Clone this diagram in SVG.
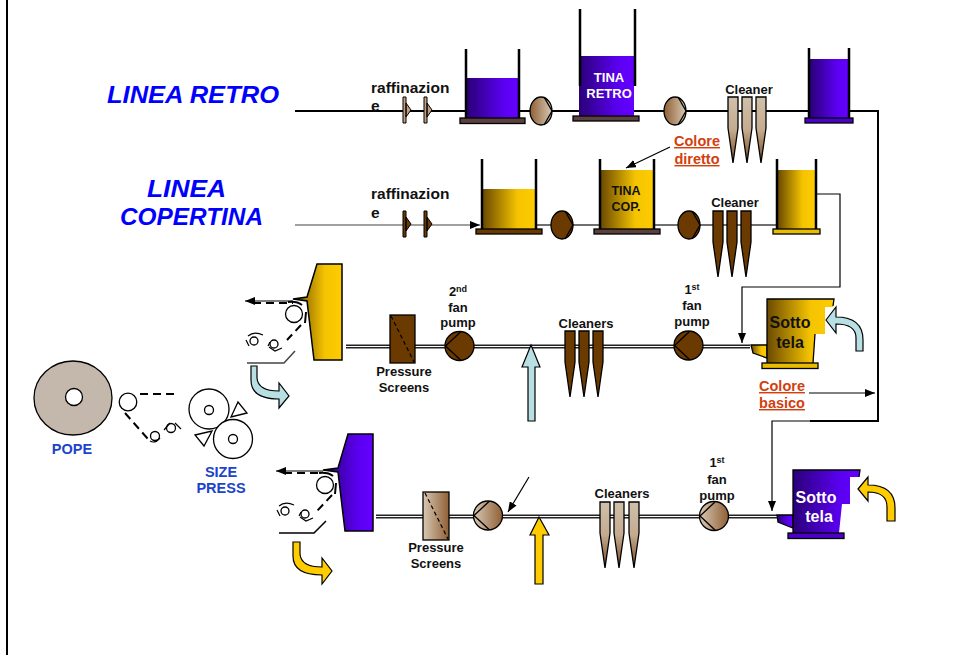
<svg xmlns="http://www.w3.org/2000/svg" width="962" height="655" viewBox="0 0 962 655">
<style>
text{font-family:"Liberation Sans",Arial,sans-serif;font-weight:bold;fill:#111}
.t13{font-size:13px;text-anchor:middle}
.t12{font-size:12.5px;text-anchor:middle}
.t16{font-size:15.5px}
.so{font-size:16px;text-anchor:middle}
.blue{font-size:14.5px;fill:#1a44cc;text-anchor:middle}
.col{font-size:14.5px;fill:#d2400e;text-anchor:middle;text-decoration:underline}
.title{font-style:italic;font-size:24px;fill:#0000ff}
.wall{stroke:#000;stroke-width:2.5;fill:none}
.o{stroke:#000;stroke-width:1.3}
.l{stroke:#000;stroke-width:1.3;fill:none}
.dash{stroke:#000;stroke-width:2;fill:none;stroke-dasharray:8 5}
.thin{stroke:#000;stroke-width:1.2;fill:none}
.main{stroke:#000;stroke-width:2;fill:none}
.rb{fill:#fff;stroke:#000;stroke-width:1.3}
.brown{fill:#6b3a00}
.base{fill:#5c4040}
.pipeo{stroke:#222;stroke-width:4;fill:none}
.pipei{stroke:#fff;stroke-width:1.2;fill:none}
.teal{fill:#b8dfe3;stroke:#000;stroke-width:1.2}
.yel{fill:#ffcc00;stroke:#000;stroke-width:1.2}
</style>
<defs>
<linearGradient id="pur"><stop offset="0" stop-color="#2a0078"/><stop offset="0.7" stop-color="#5a00f0"/><stop offset="1" stop-color="#6400ff"/></linearGradient>
<linearGradient id="gold"><stop offset="0" stop-color="#6b4a00"/><stop offset="0.65" stop-color="#f5c400"/><stop offset="1" stop-color="#ffcc00"/></linearGradient>
<linearGradient id="tanr"><stop offset="0" stop-color="#8f5f35"/><stop offset="1" stop-color="#d8c8b4"/></linearGradient>
<linearGradient id="tanl"><stop offset="0" stop-color="#d8c8b4"/><stop offset="1" stop-color="#8f5f35"/></linearGradient>
<linearGradient id="tanv" x2="0" y2="1"><stop offset="0" stop-color="#d0c0aa"/><stop offset="0.5" stop-color="#c4ab90"/><stop offset="1" stop-color="#7a4a20"/></linearGradient>
<marker id="ah" markerUnits="userSpaceOnUse" markerWidth="11" markerHeight="8" refX="10" refY="4" orient="auto"><path d="M0 0L10 4L0 8Z" fill="#000"/></marker>
<path id="cl" d="M0 0H10V31L5 66L0 31Z" class="o"/>
<path id="refi" d="M0 0H3V26H0ZM3 6L8 13L3 20Z" stroke="#000" stroke-width="1"/>
<path id="chevR" d="M3-14L11 0L3 14" class="l"/>
<path id="chevL" d="M1-14L-14 0L1 14" class="l"/>
</defs>

<rect id="frame" x="6" y="0" width="2" height="655" fill="#000"/>

<g id="connectors">
<path d="M295 111H878V421H810" class="main"/>
<path d="M810 421H772V511" class="thin" marker-end="url(#ah)"/>
<path d="M295 225H480" stroke="#808080" stroke-width="1.5" fill="none" marker-end="url(#ah)"/>
<path d="M536 225H777" stroke="#707070" stroke-width="2" fill="none"/>
<path d="M817 194H840V287H742V343" class="thin" marker-end="url(#ah)"/>
<path d="M670 147L626 168" class="thin" marker-end="url(#ah)"/>
<path d="M809 393H875" class="thin" marker-end="url(#ah)"/>
<path d="M346 346.500H750" class="pipeo"/><path d="M346 346.500H750" class="pipei"/>
<path d="M376 516.500H777" class="pipeo"/><path d="M376 516.500H777" class="pipei"/>
<path d="M529 477L508 512" class="thin" marker-end="url(#ah)"/>
<path d="M293 301H245" class="thin" marker-end="url(#ah)"/>
<path d="M323 471H276" class="thin" marker-end="url(#ah)"/>
</g>

<g id="title-retro"><text class="title" x="107" y="103" textLength="172" lengthAdjust="spacingAndGlyphs">LINEA RETRO</text></g>
<g id="title-copertina"><text class="title" x="147" y="197" textLength="79" lengthAdjust="spacingAndGlyphs">LINEA</text><text class="title" x="120" y="225" textLength="143" lengthAdjust="spacingAndGlyphs">COPERTINA</text></g>

<g id="raff-retro"><text class="t16" x="371" y="93">raffinazion</text><text class="t16" x="371" y="111">e</text>
<use href="#refi" x="403" y="97" fill="#c4a080"/><use href="#refi" x="424" y="97" fill="#c4a080"/></g>
<g id="tank-r1"><rect x="467" y="78" width="52" height="40" fill="url(#pur)"/><path d="M466 49V118M519 49V118" class="wall"/><rect x="460" y="118" width="65" height="5.500" class="base o"/></g>
<g id="pump-r1"><ellipse cx="541" cy="111" rx="11" ry="14" fill="url(#tanr)" class="o"/><use href="#chevR" x="541" y="111"/></g>
<g id="tank-r2"><rect x="579" y="56" width="55" height="60" fill="url(#pur)"/><path d="M580 9V86M635 9V86" class="wall"/><rect x="573" y="116" width="66" height="5" class="base o"/><text class="t13" x="609" y="82" style="fill:#fff">TINA</text><text class="t13" x="609" y="98" style="fill:#fff">RETRO</text></g>
<g id="pump-r2"><ellipse cx="675" cy="111" rx="11" ry="14" fill="url(#tanr)" class="o"/><use href="#chevR" x="675" y="111"/></g>
<g id="cleaner-r"><use href="#cl" x="728" y="97" fill="url(#tanv)"/><use href="#cl" x="742" y="97" fill="url(#tanv)"/><use href="#cl" x="756" y="97" fill="url(#tanv)"/><text class="t13" x="749" y="94">Cleaner</text></g>
<g id="tank-r3"><rect x="810" y="59" width="38" height="59" fill="url(#pur)"/><path d="M809 48V118M849 48V118" class="wall"/><rect x="805" y="118" width="48" height="5" fill="#4c00c8" class="o"/></g>
<g id="colore-diretto"><text class="col" x="697" y="146">Colore</text><text class="col" x="697" y="164">diretto</text></g>

<g id="raff-cop"><text class="t16" x="371" y="199">raffinazion</text><text class="t16" x="371" y="218">e</text>
<use href="#refi" x="403" y="211" class="brown"/><use href="#refi" x="424" y="211" class="brown"/></g>
<g id="tank-c1"><rect x="483" y="189" width="53" height="40" fill="url(#gold)"/><path d="M482 159V229M536 159V229" class="wall"/><rect x="476" y="229" width="66" height="5" class="brown o"/></g>
<g id="pump-c1"><ellipse cx="562" cy="225" rx="11" ry="14" class="brown o"/><use href="#chevR" x="562" y="225"/></g>
<g id="tank-c2"><rect x="601" y="170" width="53" height="59" fill="url(#gold)"/><path d="M600 159V229M654 159V229" class="wall"/><rect x="594" y="229" width="66" height="5" class="base o"/><text class="t12" x="626" y="195">TINA</text><text class="t12" x="626" y="211">COP.</text></g>
<g id="pump-c2"><ellipse cx="689" cy="225" rx="11" ry="14" class="brown o"/><use href="#chevR" x="689" y="225"/></g>
<g id="cleaner-c"><use href="#cl" x="713" y="211" class="brown"/><use href="#cl" x="727" y="211" class="brown"/><use href="#cl" x="741" y="211" class="brown"/><text class="t13" x="735" y="207">Cleaner</text></g>
<g id="tank-c3"><rect x="778" y="170" width="38" height="59" fill="url(#gold)"/><path d="M777 159V229M816 159V229" class="wall"/><rect x="773" y="229" width="47" height="5" fill="#e8bc00" class="o"/></g>

<g id="headbox-top"><path d="M317 264H342V360H314L307 301L293 299L307 297Z" fill="url(#gold)" stroke="#000" stroke-width="1.5"/></g>
<g id="forming-top" fill="none">
<path d="M253 303H293" class="dash"/>
<circle cx="294" cy="314" r="8.500" class="rb"/>
<path d="M288 302Q297 301 302 305M306 312L305 323" class="main"/>
<path d="M301 325L287 340" class="dash"/>
<circle cx="254" cy="341" r="4" class="rb"/><path d="M248 336Q254 331 263 335M246 340L249 346" class="thin"/>
<circle cx="274" cy="344" r="4" class="rb"/><path d="M269 347L275 351L282 348M270 342L268 346" class="thin"/>
<path d="M247 363H284L295 351" stroke="#444" stroke-width="1.500" fill="none"/>
</g>
<g id="flow-teal-1"><path d="M251 366H257V378Q258 391 279 391V383L289 396L279 408V399Q251 399 251 380Z" class="teal"/></g>
<g id="screen-top"><rect x="390" y="315" width="25" height="48" class="brown o"/><path d="M391 316L414 362" stroke="#000" stroke-width="1.200" stroke-dasharray="4 3"/><text class="t13" x="404" y="376">Pressure</text><text class="t13" x="404" y="392">Screens</text></g>
<g id="pump-2nd"><circle cx="459.500" cy="346" r="14.500" class="brown o"/><use href="#chevL" x="459.500" y="346"/><text class="t13" x="458" y="296">2<tspan font-size="9" dy="-4">nd</tspan></text><text class="t13" x="458" y="312">fan</text><text class="t13" x="458" y="327">pump</text></g>
<g id="arrow-teal-up"><path d="M531 345L540 367H535V421H528V367H522Z" class="teal"/></g>
<g id="cleaners-top"><use href="#cl" x="565" y="331" class="brown"/><use href="#cl" x="579" y="331" class="brown"/><use href="#cl" x="593" y="331" class="brown"/><text class="t13" x="586" y="328">Cleaners</text></g>
<g id="pump-1st-top"><circle cx="688.500" cy="345.500" r="14.500" class="brown o"/><use href="#chevL" x="688.500" y="345.500"/><text class="t13" x="692" y="294">1<tspan font-size="9" dy="-4">st</tspan></text><text class="t13" x="692" y="310">fan</text><text class="t13" x="692" y="326">pump</text></g>
<g id="sotto-yellow"><path d="M751 345H767V358L753 353Z" fill="url(#gold)" class="o"/>
<path d="M767 299H834L833 307H825V334H815L813 363H767Z" fill="url(#gold)"/><path d="M767 363V299H834L833 306M815 334L813 363" class="l"/>
<rect x="762" y="363" width="56" height="5.500" fill="#e8bc00" class="o"/>
<text class="so" x="790" y="328">Sotto</text><text class="so" x="790" y="348">tela</text></g>
<g id="flow-teal-2"><path d="M826 320L836 307V317Q863 317 863 340V351H856V338Q856 324 836 324V333Z" class="teal"/></g>
<g id="colore-basico"><text class="col" x="782" y="391">Colore</text><text class="col" x="782" y="408">basico</text></g>

<g id="pope"><ellipse cx="73" cy="398" rx="39" ry="37" fill="#c4b8ac" class="o"/><circle cx="74" cy="397" r="8.500" class="rb"/><text class="blue" x="72" y="454">POPE</text></g>
<g id="pope-rolls" fill="none">
<circle cx="128" cy="402" r="8.800" class="rb"/>
<path d="M140 394H177" class="dash"/>
<path d="M125 413L148 439" class="dash"/>
<circle cx="155" cy="436" r="4.500" class="rb"/><path d="M150 441Q155 444 160 438" class="thin"/>
<circle cx="171" cy="428" r="4.500" class="rb"/><path d="M164 430L170 423M175 423L181 429" class="thin"/>
</g>
<g id="size-press"><circle cx="209" cy="409" r="20" class="rb"/><circle cx="209" cy="410" r="4.500" class="rb"/><circle cx="233" cy="439" r="19.500" class="rb"/><circle cx="233" cy="439" r="4.500" class="rb"/>
<path d="M238 402L247 413L231 417Z" class="rb"/><path d="M195 435L212 431L204 446Z" class="rb"/>
<text class="blue" x="221" y="477">SIZE</text><text class="blue" x="221" y="493">PRESS</text></g>

<g id="headbox-bottom"><path d="M348 434H373V531H345L338 472L323 470L338 468Z" fill="url(#pur)" stroke="#000" stroke-width="1.5"/></g>
<g id="forming-bottom" fill="none">
<path d="M284 473H323" class="dash"/>
<circle cx="325" cy="485" r="8.500" class="rb"/>
<path d="M319 473Q328 472 333 476M336 483L335 494" class="main"/>
<path d="M332 495L317 511" class="dash"/>
<circle cx="285" cy="511" r="4" class="rb"/><path d="M279 506Q285 501 294 505M277 510L280 516" class="thin"/>
<circle cx="305" cy="514" r="4" class="rb"/><path d="M300 517L306 521L313 518M301 512L299 516" class="thin"/>
<path d="M279 533H314L326 521" stroke="#000" stroke-width="1.500" fill="none"/>
</g>
<g id="flow-yellow-1"><path d="M293 542H300V554Q301 567 322 567V558L332 571L322 584V575Q293 575 293 556Z" class="yel"/></g>
<g id="screen-bottom"><rect x="423" y="492" width="26" height="48" fill="url(#tanl)" class="o"/><path d="M425 493L448 539" stroke="#000" stroke-width="1.200" stroke-dasharray="4 3"/><text class="t13" x="436" y="552">Pressure</text><text class="t13" x="436" y="568">Screens</text></g>
<g id="pump-2nd-bottom"><circle cx="488" cy="515.500" r="14.500" fill="url(#tanl)" class="o"/><use href="#chevL" x="488" y="515.500"/></g>
<g id="arrow-yellow-up"><path d="M539 517L549 535H543V584H535V535H530Z" class="yel"/></g>
<g id="cleaners-bottom"><use href="#cl" x="600" y="502" fill="url(#tanv)"/><use href="#cl" x="614" y="502" fill="url(#tanv)"/><use href="#cl" x="629" y="502" fill="url(#tanv)"/><text class="t13" x="622" y="498">Cleaners</text></g>
<g id="pump-1st-bottom"><circle cx="714" cy="516" r="14.500" fill="url(#tanl)" class="o"/><use href="#chevL" x="714" y="516"/><text class="t13" x="717" y="467">1<tspan font-size="9" dy="-4">st</tspan></text><text class="t13" x="717" y="484">fan</text><text class="t13" x="717" y="500">pump</text></g>
<g id="sotto-purple"><path d="M777 515H793V528L778 522Z" fill="url(#pur)" class="o"/>
<path d="M793 470H860L859 477H850V504H842L839 533H793Z" fill="url(#pur)"/><path d="M793 533V470H860L859 477" class="l"/>
<rect x="788" y="533" width="56" height="5.500" fill="#4c00c8" class="o"/>
<text class="so" x="816" y="503" style="fill:#fff">Sotto</text><text class="so" x="819" y="522" style="fill:#fff">tela</text></g>
<g id="flow-yellow-2"><path d="M858 489L868 477V485Q895 485 895 508V521H887V507Q887 492 868 492V501Z" class="yel"/></g>
</svg>
